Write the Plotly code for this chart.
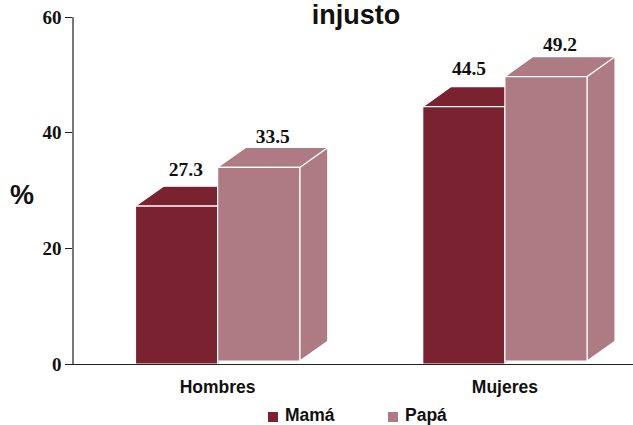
import plotly.graph_objects as go

categories = ["Hombres", "Mujeres"]
series_names = ["Mamá", "Papá"]
mama = [27.3, 44.5]
papa = [33.5, 49.2]
y_ticks = [0, 20, 40, 60]

COL_MAMA = "#7B2231"
COL_PAPA = "#AE7A83"
BAR_W = 0.286      # bar width, category units
DX = 0.0975        # 3D depth, category units
DY = 3.45          # 3D depth, value units
PAPA_LIFT = 0.5    # the second series floats slightly above the axis

# per-label nudges (category units, value units)
MAMA_LABEL_DX = [0.0325, 0.018]
MAMA_LABEL_DY = [0.9, 1.1]
PAPA_LABEL_DX = [0.049, 0.049]
PAPA_LABEL_DY = [-0.15, 0.2]

fig = go.Figure()


def poly(xs, ys, color):
    fig.add_trace(go.Scatter(
        x=xs + xs[:1], y=ys + ys[:1], mode="lines", fill="toself",
        fillcolor=color, line=dict(color="white", width=1.2),
        showlegend=False, hoverinfo="skip", cliponaxis=False))


def bar3d(cat_i, left, value, base, color):
    x0, x1 = cat_i + left, cat_i + left + BAR_W
    top = value + base
    # side, top, front
    poly([x1, x1 + DX, x1 + DX, x1], [base, base + DY, top + DY, top], color)
    poly([x0, x0 + DX, x1 + DX, x1], [top, top + DY, top + DY, top], color)
    poly([x0, x1, x1, x0], [base, base, top, top], color)


for i in range(len(categories)):
    bar3d(i, -BAR_W, mama[i], 0, COL_MAMA)
    bar3d(i, 0, papa[i], PAPA_LIFT, COL_PAPA)

# value labels
label_font = dict(family="Liberation Serif", size=19.5, color="#111111", weight="bold")
fig.add_trace(go.Scatter(
    x=[i - BAR_W / 2 + MAMA_LABEL_DX[i] for i in range(2)],
    y=[mama[i] + DY + MAMA_LABEL_DY[i] for i in range(2)],
    mode="text", text=[f"{v:.1f}" for v in mama], textposition="top center",
    textfont=label_font, showlegend=False, hoverinfo="skip", cliponaxis=False))
fig.add_trace(go.Scatter(
    x=[i + BAR_W / 2 + PAPA_LABEL_DX[i] for i in range(2)],
    y=[papa[i] + PAPA_LIFT + DY + PAPA_LABEL_DY[i] for i in range(2)],
    mode="text", text=[f"{v:.1f}" for v in papa], textposition="top center",
    textfont=label_font, showlegend=False, hoverinfo="skip", cliponaxis=False))

# legend: swatches and names placed in paper space
PLOT_L, PLOT_T, PLOT_W, PLOT_H = 74, 17, 559, 347
legend_x = [268, 388]
swatch_y = 417
text_y = 415
shapes = []
annotations = []
for name, col, lx in zip(series_names, [COL_MAMA, COL_PAPA], legend_x):
    shapes.append(dict(
        type="rect", xref="paper", yref="paper", line=dict(width=0), fillcolor=col,
        x0=(lx - PLOT_L) / PLOT_W, x1=(lx + 10 - PLOT_L) / PLOT_W,
        y0=(PLOT_T + PLOT_H - swatch_y - 5) / PLOT_H, y1=(PLOT_T + PLOT_H - swatch_y + 5) / PLOT_H))
    annotations.append(dict(
        text=name, xref="paper", yref="paper", x=(lx + 15 - PLOT_L) / PLOT_W,
        y=(PLOT_T + PLOT_H - text_y) / PLOT_H, xanchor="left", yanchor="middle",
        showarrow=False,
        font=dict(family="Liberation Sans", size=17.5, weight="bold", color="#111111")))

annotations.append(
    dict(text="%", xref="paper", yref="paper", x=(22 - PLOT_L) / PLOT_W,
         y=(PLOT_T + PLOT_H - 195) / PLOT_H, xanchor="center", yanchor="middle", showarrow=False,
         font=dict(family="Liberation Sans", size=27, weight="bold", color="#111111")))

fig.update_layout(
    width=633, height=425,
    margin=dict(l=74, r=0, t=17, b=61, autoexpand=False),
    paper_bgcolor="white", plot_bgcolor="white",
    font=dict(family="Liberation Sans", color="#111111"),
    showlegend=False,
    shapes=shapes,
    annotations=annotations,
    title=dict(text="injusto", x=356 / 633, xref="container", xanchor="center",
               y=1 - 23.5 / 425, yref="container", yanchor="bottom", pad=dict(t=0, b=0),
               font=dict(family="Liberation Sans", size=27, weight="bold", color="#111111")),
    xaxis=dict(
        range=[-0.5, 1.446], tickmode="array", tickvals=[0, 1], ticktext=categories,
        showgrid=False, zeroline=False, ticks="", showline=True,
        linecolor="#222222", linewidth=1,
        tickfont=dict(family="Liberation Sans", size=17.5, weight="bold", color="#111111"),
        ticklabelstandoff=7,
    ),
    yaxis=dict(
        range=[0, 60], tickmode="array", tickvals=y_ticks,
        showgrid=False, zeroline=False, ticks="outside", ticklen=7, tickwidth=1,
        tickcolor="#222222", showline=True, linecolor="#777777", linewidth=1.5,
        tickfont=dict(family="Liberation Serif", size=19, weight="bold", color="#111111"),
    ),
)

fig.write_html("out.html", post_script="document.body.style.margin='0';",
               config=dict(displayModeBar=False))
